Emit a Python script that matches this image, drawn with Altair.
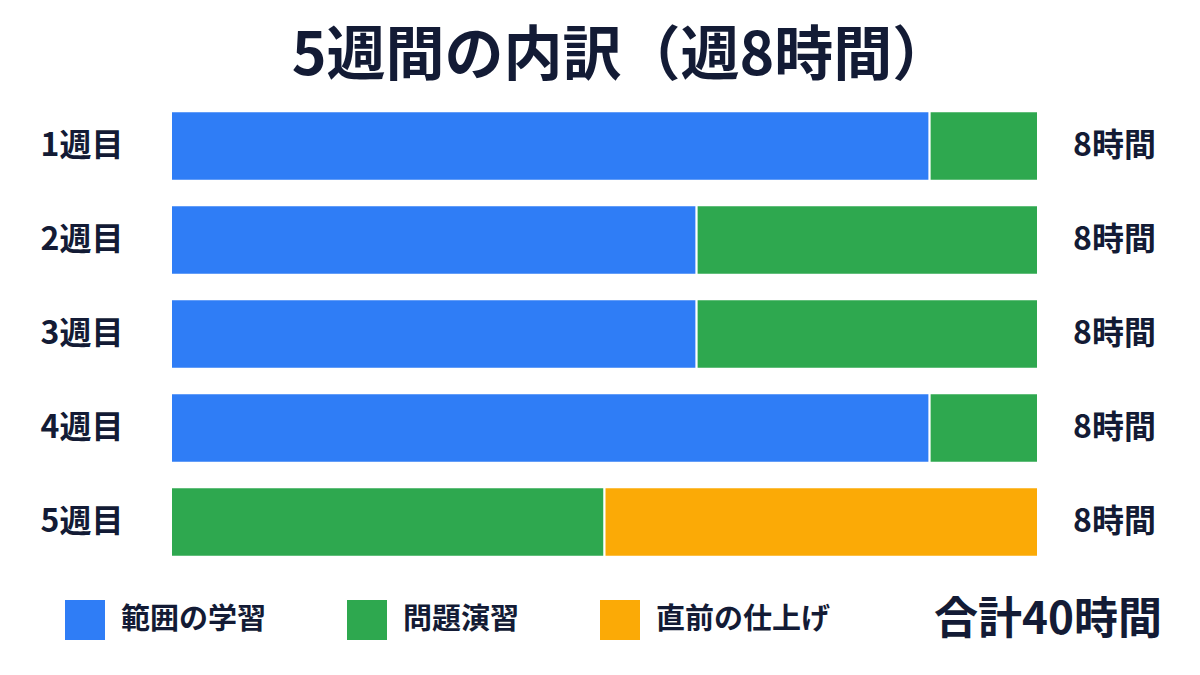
import pandas as pd
import altair as alt

weeks = ["1週目", "2週目", "3週目", "4週目", "5週目"]
categories = ["範囲の学習", "問題演習", "直前の仕上げ"]
colors = ["#2F7DF6", "#2EA84F", "#FBAA06"]

# hours per week for each category
range_hours = [7, 4.85, 4.85, 7, 0]
practice_hours = [1, 3.15, 3.15, 1, 4]
final_hours = [0, 0, 0, 0, 4]

FONT = "Noto Sans CJK JP"
INK = "#131b35"

rows = []
for i, w in enumerate(weeks):
    for k, (cat, vals) in enumerate(zip(categories, [range_hours, practice_hours, final_hours])):
        if vals[i] > 0:
            rows.append({"week": w, "category": cat, "hours": vals[i], "order": k})
bars_df = pd.DataFrame(rows)

totals = [r + p + f for r, p, f in zip(range_hours, practice_hours, final_hours)]
totals_df = pd.DataFrame({"week": weeks, "label": [f"{round(t)}時間" for t in totals]})
grand_df = pd.DataFrame({"label": [f"合計{round(sum(totals))}時間"]})

y_enc = alt.Y("week:N", sort=weeks, title=None,
              scale=alt.Scale(paddingInner=0.26, paddingOuter=0.13),
              axis=alt.Axis(domain=False, ticks=False, labelPadding=48, labelFontSize=32,
                            labelFont=FONT, labelFontWeight="bold", labelColor=INK))

bars = alt.Chart(bars_df).mark_bar(stroke="white", strokeWidth=2).encode(
    x=alt.X("hours:Q", stack="zero", scale=alt.Scale(domain=[0, 8], nice=False), axis=None),
    y=y_enc,
    color=alt.Color("category:N", sort=categories,
                    scale=alt.Scale(domain=categories, range=colors),
                    legend=alt.Legend(orient="none", legendX=-106, legendY=501, direction="horizontal",
                                      title=None, symbolType="square", symbolSize=1600,
                                      symbolStrokeWidth=0, labelFontSize=29, labelFont=FONT,
                                      labelFontWeight="bold", labelColor=INK, labelOffset=16,
                                      labelLimit=400, columnPadding=80, padding=0)),
    order=alt.Order("order:Q"),
)

week_totals = alt.Chart(totals_df).mark_text(
    align="left", baseline="middle", fontSize=32, font=FONT, fontWeight="bold", color=INK
).encode(y=alt.Y("week:N", sort=weeks), x=alt.value(902), text="label:N")

grand_total = alt.Chart(grand_df).mark_text(
    align="right", baseline="middle", fontSize=44, font=FONT, fontWeight="bold", color=INK
).encode(x=alt.value(991), y=alt.value(522), text="label:N")

chart = alt.layer(bars, week_totals, grand_total).properties(
    width=867, height=470,
    autosize=alt.AutoSizeParams(type="none"),
    padding={"left": 163, "top": 91, "right": 154, "bottom": 98},
    background="white",
    title=alt.TitleParams("5週間の内訳（週8時間）", fontSize=59, font=FONT, fontWeight="bold",
                          color=INK, anchor="middle", dx=17, offset=12),
).configure_view(stroke=None)

chart.save("out.html", embed_options={"renderer": "svg", "actions": False})
